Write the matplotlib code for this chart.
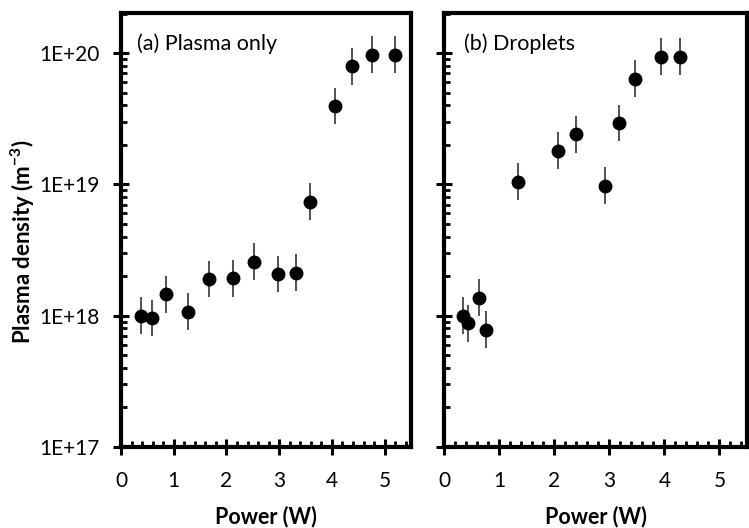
import matplotlib
matplotlib.use("Agg")
import matplotlib.pyplot as plt
from matplotlib.ticker import LogLocator, MultipleLocator, NullFormatter, FixedFormatter, FixedLocator
import numpy as np

# ---- data ----
power_a = [0.37, 0.59, 0.86, 1.28, 1.67, 2.13, 2.52, 2.98, 3.32, 3.58, 4.06, 4.39, 4.76, 5.20]
density_a = [1.0e18, 0.96e18, 1.45e18, 1.07e18, 1.9e18, 1.93e18, 2.58e18, 2.08e18, 2.13e18,
             7.4e18, 3.95e19, 7.9e19, 9.7e19, 9.7e19]
power_b = [0.34, 0.43, 0.63, 0.77, 1.35, 2.07, 2.40, 2.92, 3.18, 3.47, 3.93, 4.29]
density_b = [1.0e18, 0.875e18, 1.37e18, 0.78e18, 1.05e19, 1.81e19, 2.41e19, 0.98e19,
             2.93e19, 6.36e19, 9.4e19, 9.4e19]
err_factor = 1.38  # multiplicative error bar extent
panel_titles = ["(a) Plasma only", "(b) Droplets"]
ytick_vals = [1e17, 1e18, 1e19, 1e20]
ytick_labels = ["1E+17", "1E+18", "1E+19", "1E+20"]
xtick_vals = [0, 1, 2, 3, 4, 5]

plt.rcParams['font.family'] = ['Lato', 'DejaVu Sans']
plt.rcParams['mathtext.fontset'] = 'custom'
plt.rcParams['mathtext.rm'] = 'Lato'
plt.rcParams['mathtext.bf'] = 'Lato:bold'

W, H = 749, 528
fig = plt.figure(figsize=(W / 100, H / 100), dpi=100)
top = 1 - 13 / H
bottom = 1 - 447 / H
axA = fig.add_axes([121 / W, bottom, (411 - 121) / W, top - bottom])
axB = fig.add_axes([444 / W, bottom, (747 - 444) / W, top - bottom])

for ax, xs, ys, title, showlab, tx in [(axA, power_a, density_a, panel_titles[0], True, 0.055),
                                        (axB, power_b, density_b, panel_titles[1], False, 0.066)]:
    ys = np.array(ys)
    lower = ys - ys / err_factor
    upper = ys * err_factor - ys
    ax.errorbar(xs, ys, yerr=[lower, upper], fmt='o', color='black', ms=9,
                ecolor='#333333', elinewidth=1.2, capsize=0, zorder=3)
    ax.set_yscale('log')
    ax.set_ylim(1e17, 10 ** 20.305)
    ax.set_xlim(0, 5.5)
    ax.yaxis.set_major_locator(FixedLocator(ytick_vals))
    ax.yaxis.set_minor_locator(LogLocator(base=10, subs=np.arange(2, 10)))
    ax.yaxis.set_minor_formatter(NullFormatter())
    if showlab:
        ax.yaxis.set_major_formatter(FixedFormatter(ytick_labels))
    else:
        ax.yaxis.set_major_formatter(NullFormatter())
    ax.xaxis.set_major_locator(FixedLocator(xtick_vals))
    ax.xaxis.set_minor_locator(MultipleLocator(0.2))
    for s in ax.spines.values():
        s.set_linewidth(3)
    ax.tick_params(which='major', direction='inout', length=11, width=2.2, labelsize=15)
    ax.tick_params(which='minor', direction='in', length=4, width=2)
    ax.tick_params(axis='y', which='major', pad=10)
    ax.tick_params(axis='x', which='major', pad=12)
    ax.text(tx, 0.93, title, transform=ax.transAxes, fontsize=15.5, ha='left', va='center')
    ax.set_xlabel("Power (W)", fontsize=15.5, fontweight='bold', labelpad=10)

axA.set_ylabel("Plasma density (m$^{\\mathbf{-3}}$)", fontsize=16, fontweight='bold')
axA.yaxis.set_label_coords((37 - 121) / 290, (447 - 242) / 434)

fig.savefig("out.png", dpi=100)
